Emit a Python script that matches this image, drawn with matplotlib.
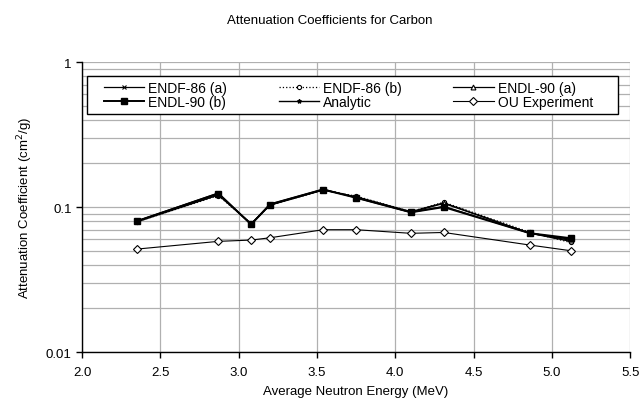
import matplotlib
matplotlib.use("Agg")
import matplotlib.pyplot as plt
from matplotlib.patches import Rectangle
from matplotlib.ticker import FixedLocator, LogLocator, NullFormatter

plt.rcParams['font.family'] = ['Liberation Sans', 'DejaVu Sans']

# ----- Data -----
energia = [2.35, 2.87, 3.08, 3.20, 3.54, 3.75, 4.10, 4.31, 4.86, 5.12]

endf86_a = [0.079, 0.121, 0.077, 0.103, 0.131, 0.118, 0.093, 0.107, 0.066, 0.058]
endf86_b = [0.079, 0.120, 0.077, 0.103, 0.131, 0.119, 0.093, 0.108, 0.067, 0.057]
endl90_a = [0.080, 0.123, 0.076, 0.104, 0.132, 0.117, 0.092, 0.106, 0.066, 0.059]
endl90_b = [0.080, 0.124, 0.076, 0.104, 0.132, 0.116, 0.092, 0.100, 0.066, 0.061]
analitico = [0.080, 0.125, 0.076, 0.105, 0.133, 0.116, 0.092, 0.101, 0.066, 0.060]
ou_exp = [0.0513, 0.058, 0.0592, 0.0614, 0.0698, 0.0698, 0.0659, 0.0668, 0.0547, 0.050]

xticks = [2.0, 2.5, 3.0, 3.5, 4.0, 4.5, 5.0, 5.5]
xtick_labels = ["2.0", "2.5", "3.0", "3.5", "4.0", "4.5", "5.0", "5.5"]
yticks = [0.01, 0.1, 1]
ytick_labels = ["0.01", "0.1", "1"]

# ----- Figure -----
fig = plt.figure(figsize=(6.41, 4.10), dpi=100)
ax = fig.add_axes([0.128, 0.139, 0.855, 0.707])

h1, = ax.plot(energia, endf86_a, color='black', lw=0.9, marker='x', ms=3.5, mew=0.8,
              label='ENDF-86 (a)')
h2, = ax.plot(energia, endf86_b, color='black', lw=0.9, ls=':', marker='o', ms=3,
              mfc='white', mew=0.8, label='ENDF-86 (b)')
h3, = ax.plot(energia, endl90_a, color='black', lw=0.9, marker='^', ms=3.5,
              mfc='white', mew=0.8, label='ENDL-90 (a)')
h4, = ax.plot(energia, endl90_b, color='black', lw=1.4, marker='s', ms=4.8,
              label='ENDL-90 (b)')
h5, = ax.plot(energia, analitico, color='black', lw=1.0, marker='*', ms=3,
              label='Analytic')
h6, = ax.plot(energia, ou_exp, color='black', lw=0.8, marker='D', ms=3.6,
              mfc='white', mew=0.8, label='OU Experiment')

ax.set_yscale('log')
ax.set_xlim(2.0, 5.5)
ax.set_ylim(0.01, 1)

ax.xaxis.set_major_locator(FixedLocator(xticks))
ax.set_xticklabels(xtick_labels)
ax.set_yticks(yticks)
ax.set_yticklabels(ytick_labels)
ax.yaxis.set_minor_locator(LogLocator(base=10, subs=range(2, 10)))
ax.yaxis.set_minor_formatter(NullFormatter())
ax.tick_params(axis='y', which='minor', length=0)
ax.tick_params(axis='both', which='major', direction='out', length=4, width=1,
               labelsize=9.5, colors='black')
ax.tick_params(axis='x', pad=6)

ax.grid(True, which='both', axis='y', color='#b0b0b0', lw=0.9)
ax.grid(True, which='major', axis='x', color='#b0b0b0', lw=0.9)
ax.set_axisbelow(True)

for lado in ['top', 'right']:
    ax.spines[lado].set_visible(False)
ax.spines['left'].set_linewidth(1.0)
ax.spines['bottom'].set_linewidth(1.0)

ax.set_xlabel("Average Neutron Energy (MeV)", fontsize=9.5, labelpad=5)
ax.set_ylabel("Attenuation Coefficient (cm$^2$/g)", fontsize=9.5, labelpad=8)
fig.text(0.515, 0.95, "Attenuation Coefficients for Carbon", ha='center', va='center',
         fontsize=9.5)

# caja de la leyenda (estilo Excel, con margen izquierdo amplio)
ancho, alto = 641.0, 410.0
caja = Rectangle((87 / ancho, 1 - 115 / alto), (618 - 87) / ancho, (115 - 77) / alto,
                 transform=fig.transFigure, facecolor='white', edgecolor='black',
                 lw=1.0, zorder=4)
ax.add_patch(caja)

leg = ax.legend([h1, h4, h2, h5, h3, h6],
                ['ENDF-86 (a)', 'ENDL-90 (b)', 'ENDF-86 (b)', 'Analytic',
                 'ENDL-90 (a)', 'OU Experiment'],
                ncol=3, loc='upper left', bbox_to_anchor=(104 / ancho, 1 - 82 / alto),
                bbox_transform=fig.transFigure, fontsize=10, frameon=False,
                handlelength=2.9, handletextpad=0.3, columnspacing=3.7,
                labelspacing=0.0, borderpad=0, borderaxespad=0)
leg.set_zorder(5)

fig.savefig("out.png", dpi=100)
